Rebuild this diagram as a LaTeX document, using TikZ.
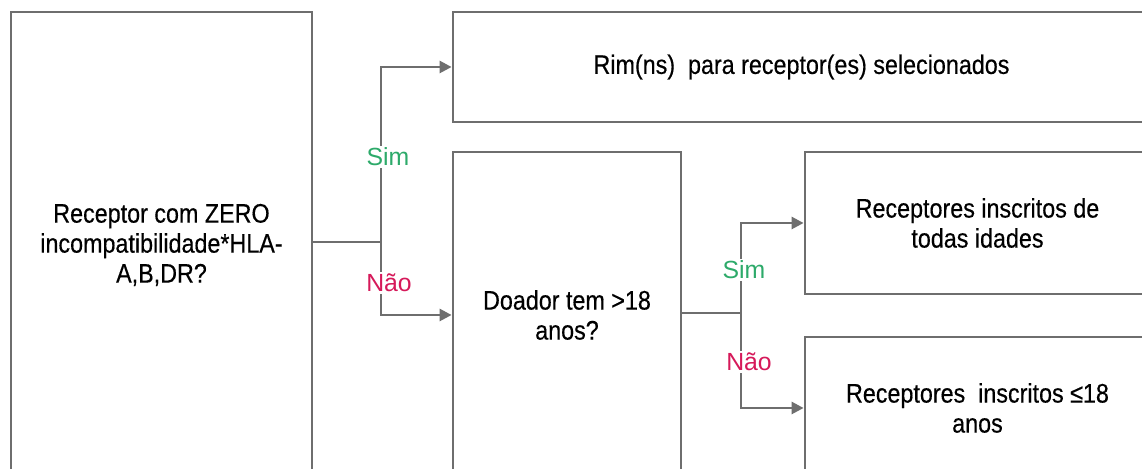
\documentclass[tikz,border=0pt]{standalone}
\usepackage{fontspec}
\setmainfont{Liberation Sans}[FakeStretch=0.87,FakeBold=0.4]
\newfontfamily\lblfont{Liberation Sans}
\usetikzlibrary{arrows.meta}

\definecolor{linegray}{HTML}{6E6E6E}
\definecolor{simgreen}{HTML}{2DAA6A}
\definecolor{naored}{HTML}{D6195A}

\tikzset{
  box/.style={draw=linegray, line width=1.4pt, align=center, inner sep=0pt,
    font=\fontsize{13.4}{15}\selectfont},
  conn/.style={draw=linegray, line width=1.3pt},
  arr/.style={conn, -{Triangle[length=6pt,width=6pt]}},
  sim/.style={fill=white, inner sep=1pt, text=simgreen, font=\lblfont\fontsize{12.4}{14}\selectfont},
  nao/.style={fill=white, inner sep=1pt, text=naored, font=\lblfont\fontsize{12.4}{14}\selectfont}
}

\begin{document}
\begin{tikzpicture}[x=0.5pt,y=-0.5pt]
    \useasboundingbox (0,0) rectangle (1142,469);
    \clip (0,0) rectangle (1142,469);
    \fill[white] (0,0) rectangle (1142,469);

    % boxes
    \node[box, minimum width=150.5pt, minimum height=233pt] (rcpt) at (161.5,245)
      {Receptor com ZERO\\incompatibilidade*HLA-\\A,B,DR?};
    \node[box, minimum width=348.5pt, minimum height=55pt] (rim) at (801.5,67)
      {Rim(ns)\ \ para receptor(es) selecionados};
    \node[box, minimum width=114pt, minimum height=163pt] (doador) at (567,315)
      {Doador tem >18\\anos?};
    \node[box, minimum width=172.5pt, minimum height=71pt] (todas) at (977.5,223)
      {Receptores inscritos de\\todas idades};
    \node[box, minimum width=172.5pt, minimum height=71pt] (menor) at (977.5,408)
      {Receptores\ \ inscritos ≤18\\anos};

    % branch points
    \coordinate (j1) at (381,242);
    \coordinate (j2) at (741,313);

    \draw[conn] (rcpt.east |- j1) -- (j1);
    \draw[arr] (j1) |- (rim.west);
    \draw[arr] (j1) |- (doador.west);
    \draw[conn] (doador.east |- j2) -- (j2);
    \draw[arr] (j2) |- (todas.west);
    \draw[arr] (j2) |- (menor.west);

    % labels
    \node[sim] (sim1) at (388,157) {Sim};
    \node[nao] (nao1) at (389,283) {Não};
    \node[sim] (sim2) at (744,270) {Sim};
    \node[nao] (nao2) at (749,362) {Não};
  \end{tikzpicture}
\end{document}
